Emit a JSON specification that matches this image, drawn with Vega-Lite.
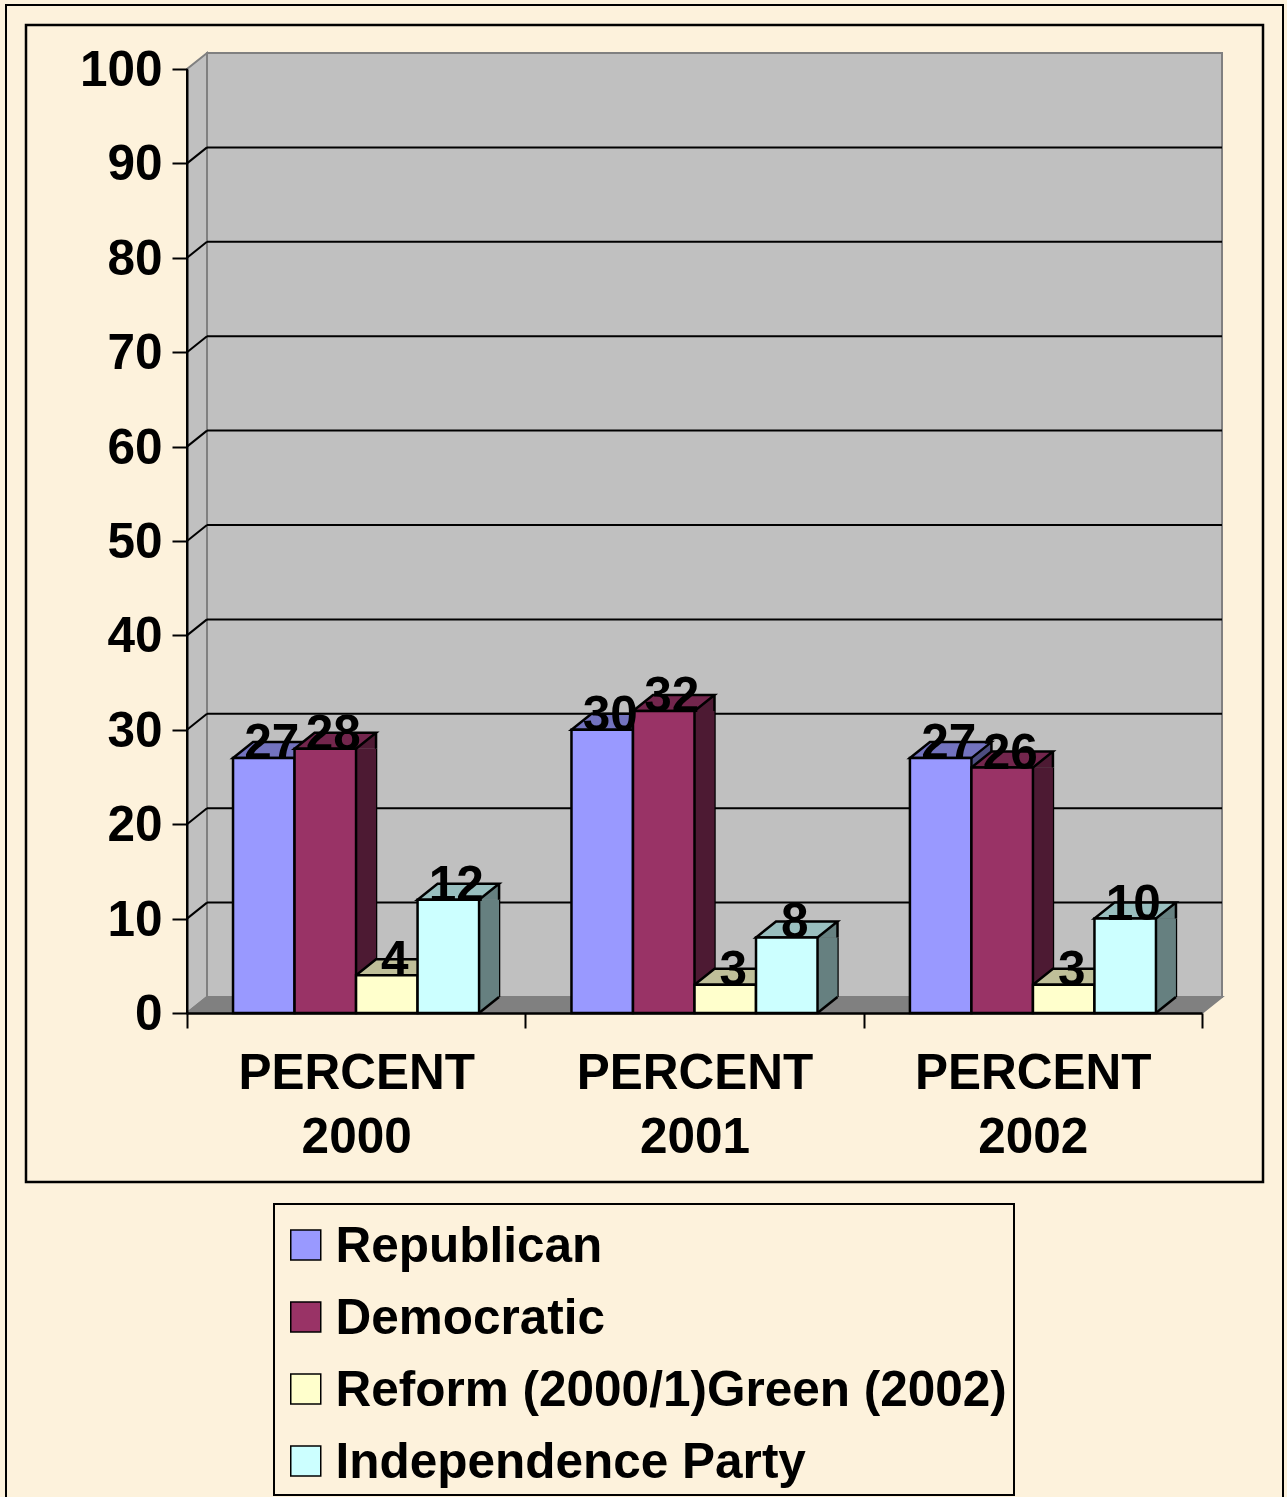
{
"$schema":"https://vega.github.io/schema/vega-lite/v6.json",
"width":1237,"height":1157,
"autosize":{"type":"none"},
"padding":{"left":26,"top":25,"right":24,"bottom":315},
"background":"#FDF2DC",
"config":{"font":"Liberation Sans","view":{"stroke":"#000000","strokeWidth":2.5,"fill":null},"legend":{"strokeWidth":2}},
"datasets":{
"bars":[
{"year":"PERCENT 2000","party":"Republican","value":27},
{"year":"PERCENT 2000","party":"Democratic","value":28},
{"year":"PERCENT 2000","party":"Reform (2000/1)Green (2002)","value":4},
{"year":"PERCENT 2000","party":"Independence Party","value":12},
{"year":"PERCENT 2001","party":"Republican","value":30},
{"year":"PERCENT 2001","party":"Democratic","value":32},
{"year":"PERCENT 2001","party":"Reform (2000/1)Green (2002)","value":3},
{"year":"PERCENT 2001","party":"Independence Party","value":8},
{"year":"PERCENT 2002","party":"Republican","value":27},
{"year":"PERCENT 2002","party":"Democratic","value":26},
{"year":"PERCENT 2002","party":"Reform (2000/1)Green (2002)","value":3},
{"year":"PERCENT 2002","party":"Independence Party","value":10}],
"levels":[{"level":10},{"level":20},{"level":30},{"level":40},{"level":50},{"level":60},{"level":70},{"level":80},{"level":90}],
"one":[{"part":"wall"}]
},
"data":{"name":"bars"},
"resolve":{"scale":{"x":"independent","xOffset":"independent","color":"independent"},"axis":{"y":"independent","x":"independent"}},
"layer":[
{"data":{"name":"one"},
 "encoding":{
  "x":{"datum":0,"type":"quantitative","scale":{"domain":[0,1],"range":[161,1176]},"axis":null}},
 "layer":[
  {"mark":{"type":"point","shape":"M-181,-1008L1096,-1008L1096,500L-181,500Z","size":4,"filled":false,"stroke":"#000000","strokeWidth":2,"opacity":1},"encoding":{"y":{"datum":0,"type":"quantitative","scale":{"domain":[0,100],"range":[988,44]},"axis":null}}},
  {"mark":{"type":"point","shape":"M0,0L20,-16L20,-960L0,-944Z","size":4,"filled":true,"fill":"#C0C0C0","stroke":"#808080","strokeWidth":2,"opacity":1},"encoding":{"y":{"datum":0,"type":"quantitative","axis":null}}},
  {"mark":{"type":"point","shape":"M20,-16L1035,-16L1035,-960L20,-960Z","size":4,"filled":true,"fill":"#C0C0C0","stroke":"#808080","strokeWidth":2,"opacity":1},"encoding":{"y":{"datum":0,"type":"quantitative","axis":null}}},
  {"mark":{"type":"point","shape":"M0,0L1015,0L1035,-16L20,-16Z","size":4,"filled":true,"fill":"#808080","stroke":"#808080","strokeWidth":2,"opacity":1},"encoding":{"y":{"datum":0,"type":"quantitative","axis":null}}},
  {"data":{"name":"levels"},
   "mark":{"type":"rule","stroke":"#000000","strokeWidth":2,"xOffset":20,"x2Offset":20,"yOffset":-16},
   "encoding":{"x2":{"datum":1},"y":{"field":"level","type":"quantitative","axis":null}}},
  {"data":{"name":"levels"},
   "mark":{"type":"point","shape":"M0,0L20,-16","size":4,"filled":false,"stroke":"#000000","strokeWidth":2,"opacity":1},
   "encoding":{"y":{"field":"level","type":"quantitative","axis":null}}},
  {"mark":{"type":"point","shape":"M0,-944L0,0","size":4,"filled":false,"stroke":"#000000","strokeWidth":2,"opacity":1},"encoding":{"y":{"datum":0,"type":"quantitative","axis":null}}}
 ]},
{"encoding":{
  "x":{"field":"year","type":"nominal","axis":null,"scale":{"range":[161,1176],"paddingInner":0.273,"paddingOuter":0.136}},
  "xOffset":{"field":"party","type":"nominal","scale":{"type":"point","domain":["Republican","Democratic","Reform (2000/1)Green (2002)","Independence Party"],"range":[71.5,256],"padding":0}},
  "y":{"field":"value","type":"quantitative","axis":null,"scale":{"domain":[0,100],"range":[988,44]}},
  "color":{"field":"party","type":"nominal","legend":null,"scale":{"domain":["Republican","Democratic","Reform (2000/1)Green (2002)","Independence Party"],"range":["#4D4D80","#4D1A33","#808066","#668080"]}}},
 "layer":[
  {"mark":{"type":"rule","strokeWidth":22.5,"y2Offset":-16},"encoding":{"y2":{"datum":0},"color":{"value":"#000000"}}},
  {"mark":{"type":"rule","strokeWidth":20,"y2Offset":-16},"encoding":{"y2":{"datum":0}}},
  {"mark":{"type":"point","shape":"M-10,0L10,0L10,-16Z","size":4,"filled":true,"opacity":1}},
  {"mark":{"type":"point","shape":"M-10,0L10,-16L-10,-16Z","size":4,"filled":true,"opacity":1},"encoding":{"y":{"datum":0,"type":"quantitative","axis":null}}},
  {"mark":{"type":"point","shape":"M-10,0L10,-16","size":4,"filled":false,"stroke":"#000000","strokeWidth":2.5,"opacity":1},"encoding":{"y":{"datum":0,"type":"quantitative","axis":null},"color":{"value":"#000000"}}}
 ]},
{"encoding":{
  "x":{"field":"year","type":"nominal","axis":null,"scale":{"range":[161,1176],"paddingInner":0.273,"paddingOuter":0.136}},
  "xOffset":{"field":"party","type":"nominal","scale":{"domain":["Republican","Democratic","Reform (2000/1)Green (2002)","Independence Party"],"paddingInner":0,"paddingOuter":0}},
  "y":{"field":"value","type":"quantitative","scale":{"domain":[0,100],"range":[988,44]},
    "axis":{"title":null,"offset":-161,"values":[0,10,20,30,40,50,60,70,80,90,100],"labelFontSize":49.5,"labelFontWeight":"bold","labelColor":"#000000","labelPadding":10,"labelOffset":1.5,"tickSize":15,"tickWidth":2,"tickColor":"#000000","domainColor":"#000000","domainWidth":2,"grid":false,"zindex":1}}},
 "layer":[
  {"mark":{"type":"point","shape":"M-30.75,0L30.75,0L50.75,-16L-10.75,-16ZM50.75,-16L50.75,0","size":4,"filled":true,"stroke":"#000000","strokeWidth":2.5,"opacity":1},
   "encoding":{"color":{"field":"party","type":"nominal","legend":null,"scale":{"domain":["Republican","Democratic","Reform (2000/1)Green (2002)","Independence Party"],"range":["#7373BF","#73264D","#BFBF99","#99BFBF"]}},"stroke":{"value":"#000000"}}},
  {"mark":{"type":"bar","stroke":"#000000","strokeWidth":2.5},
   "encoding":{"fill":{"field":"party","type":"nominal","title":null,
     "scale":{"domain":["Republican","Democratic","Reform (2000/1)Green (2002)","Independence Party"],"range":["#9999FF","#993366","#FFFFCC","#CCFFFF"]},
     "legend":{"orient":"none","legendX":248,"legendY":1179,"direction":"vertical","symbolType":"square","symbolSize":900,"symbolStrokeColor":"#000000","symbolStrokeWidth":1.5,"symbolOpacity":1,"labelFontSize":49.5,"labelFontWeight":"bold","labelColor":"#000000","labelLimit":900,"labelOffset":5,"rowPadding":11,"padding":7,"strokeColor":"#000000","values":["Republican","Democratic","Reform (2000/1)Green (2002)","Independence Party"],
       "encode":{"symbols":{"update":{"y":{"value":34}}},"labels":{"update":{"dy":{"value":11}}}}}}}},
  {"mark":{"type":"text","fontSize":49.5,"fontWeight":"bold","fill":"#000000","align":"center","baseline":"middle","dx":8,"dy":-14},
   "encoding":{"text":{"field":"value","type":"quantitative"}}}
 ]},
{"mark":{"type":"rule","opacity":0},
 "encoding":{
  "x":{"field":"year","type":"nominal","scale":{"range":[161,1176],"paddingInner":0,"paddingOuter":0},
    "axis":{"title":null,"offset":-169,"tickBand":"extent","labelAngle":0,"labelExpr":"split(datum.label,' ')","labelLimit":500,"labelFontSize":49.5,"labelFontWeight":"bold","labelColor":"#000000","labelLineHeight":64,"labelPadding":21,"labelBaseline":"top","tickSize":15,"tickWidth":2,"tickColor":"#000000","domainColor":"#000000","domainWidth":2.5,"grid":false,"zindex":1}}}}
]
}
